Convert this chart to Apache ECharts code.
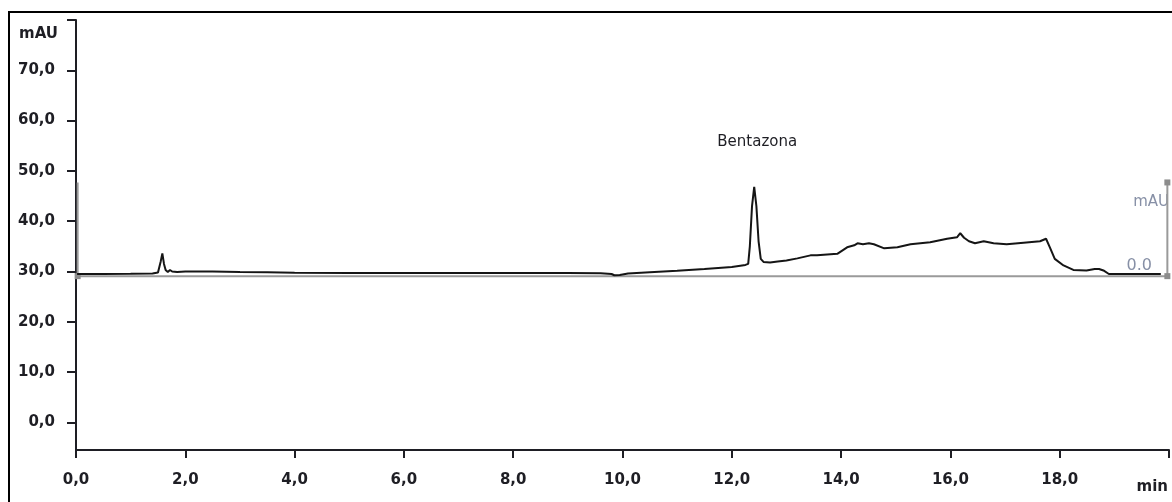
<!DOCTYPE html>
<html>
<head>
<meta charset="utf-8">
<script src="https://cdn.jsdelivr.net/npm/echarts@6/dist/echarts.min.js"></script>
<style>
html,body{margin:0;padding:0;background:#fff;}
#chart{width:1172px;height:502px;}
</style>
</head>
<body>
<div id="chart"></div>
<script>
// Retention time (min) and absorbance (mAU) of the trace
var times = [0.02,0.5,1.0,1.4,1.5,1.55,1.58,1.61,1.64,1.68,1.72,1.76,1.85,2.0,2.5,3.0,3.5,4.0,5.0,6.0,7.0,8.0,9.0,9.6,9.8,9.85,9.95,10.1,10.5,11.0,11.5,12.0,12.25,12.3,12.33,12.37,12.41,12.45,12.49,12.53,12.58,12.7,12.84,13.0,13.2,13.44,13.56,13.93,14.11,14.24,14.3,14.4,14.51,14.6,14.79,15.03,15.27,15.63,15.94,16.12,16.18,16.25,16.34,16.45,16.61,16.79,17.03,17.34,17.64,17.75,17.82,17.91,18.07,18.25,18.49,18.64,18.72,18.8,18.9,19.2,19.5,19.85];
var signal = [29.5,29.5,29.55,29.6,29.8,32.0,33.6,31.5,30.3,29.9,30.3,30.0,29.9,30.0,30.0,29.9,29.85,29.75,29.7,29.7,29.7,29.7,29.7,29.65,29.5,29.25,29.3,29.6,29.85,30.15,30.5,30.9,31.3,31.5,35.0,43.0,46.8,43.0,36.0,32.5,31.9,31.8,32.0,32.2,32.6,33.2,33.2,33.5,34.8,35.2,35.6,35.4,35.6,35.4,34.6,34.8,35.4,35.8,36.5,36.8,37.6,36.7,36.0,35.6,36.0,35.6,35.4,35.7,36.0,36.5,34.8,32.5,31.2,30.3,30.2,30.5,30.5,30.2,29.5,29.5,29.5,29.5];
// Overlay frame (second trace window): left edge, zero line, right edge
var frameTimes = [0.03, 0.03, 19.97, 19.97];
var frameValues = [47.7, 29.07, 29.07, 47.7];
var peakName = 'Bentazona';
var peakTime = 12.41;
var peakValue = 46.8;
var xTicks = [0,2,4,6,8,10,12,14,16,18,20];
var yTicks = [0,10,20,30,40,50,60,70,80];
var yLabels = [0,10,20,30,40,50,60,70];

function fmt(v){ return v.toFixed(1).replace('.', ','); }

var chart = echarts.init(document.getElementById('chart'), null, {renderer:'canvas'});
var font = 'DejaVu Sans';
var ink = '#1e1e24';

var lineData = times.map(function(t,i){ return [t, signal[i]]; });
var frameData = frameTimes.map(function(t,i){
  return {value:[t, frameValues[i]], symbol: i===0 ? 'none' : 'rect'};
});

chart.setOption({
  animation:false,
  backgroundColor:'#fff',
  grid:{left:76, right:0, top:20, bottom:52, containLabel:false},
  xAxis:{
    type:'value', min:0, max:20, interval:2,
    axisLine:{show:true, onZero:false, lineStyle:{color:ink, width:2}},
    axisTick:{show:true, length:8, lineStyle:{color:ink, width:2}},
    axisLabel:{margin:23, color:ink, fontFamily:font, fontWeight:'bold', fontSize:15,
      formatter:function(v){ return v===20 ? '' : fmt(v); }},
    splitLine:{show:false}
  },
  yAxis:{
    type:'value', min:-5.5, max:80,
    axisLine:{show:true, onZero:false, lineStyle:{color:ink, width:2}},
    axisTick:{show:true, length:9, customValues:yTicks, lineStyle:{color:ink, width:2}},
    axisLabel:{margin:21, color:ink, fontFamily:font, fontWeight:'bold', fontSize:15,
      customValues:yLabels, formatter:function(v){ return fmt(v); }},
    splitLine:{show:false}
  },
  series:[
    {
      type:'line', data:frameData, symbolSize:6, showSymbol:true,
      lineStyle:{color:'#9a9a9a', width:2}, itemStyle:{color:'#8c8c8c'},
      z:1, silent:true
    },
    {
      type:'line', data:lineData, showSymbol:false, symbol:'none',
      lineStyle:{color:'#151515', width:2}, z:3, silent:true,
      markPoint:{
        symbol:'circle', symbolSize:1, itemStyle:{color:'rgba(0,0,0,0)'},
        label:{show:true, position:'top', distance:37, offset:[3,0], color:ink, fontFamily:font, fontSize:15,
          formatter:function(p){ return p.name; }},
        data:[{name:peakName, coord:[peakTime, peakValue]}]
      }
    }
  ],
  graphic:[
    {type:'rect', shape:{x:9, y:12, width:1200, height:600}, style:{fill:'none', stroke:'#000', lineWidth:2}, silent:true},
    {type:'text', x:58, y:34, style:{text:'mAU', fill:ink, font:'bold 15px "DejaVu Sans"', textAlign:'right', textVerticalAlign:'middle'}},
    {type:'text', x:1168, y:487, style:{text:'min', fill:ink, font:'bold 15px "DejaVu Sans"', textAlign:'right', textVerticalAlign:'middle'}},
    {type:'text', x:1169, y:202, style:{text:'mAU', fill:'#8790a6', font:'15px "DejaVu Sans"', textAlign:'right', textVerticalAlign:'middle'}},
    {type:'text', x:1152, y:266, style:{text:'0.0', fill:'#8790a6', font:'16px "DejaVu Sans"', textAlign:'right', textVerticalAlign:'middle'}}
  ]
});
</script>
</body>
</html>
